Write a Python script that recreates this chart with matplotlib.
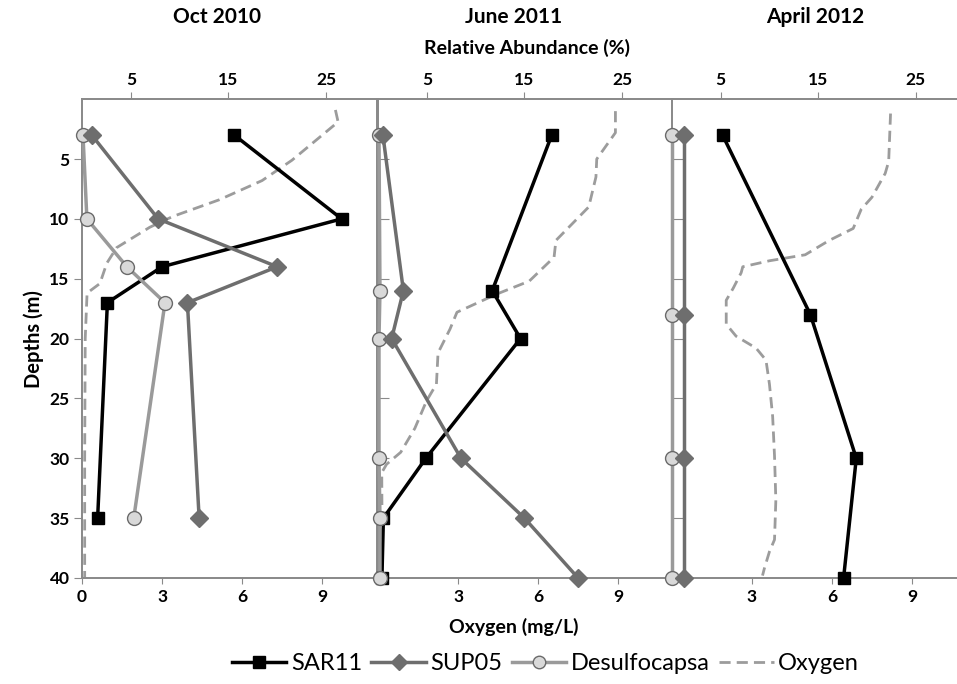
import matplotlib.pyplot as plt
from matplotlib.lines import Line2D

plt.rcParams['font.family'] = ['Lato', 'DejaVu Sans']

titles = ['Oct 2010', 'June 2011', 'April 2012']

# Oct 2010
oct_depth = [3, 10, 14, 17, 35]
oct_sar11 = [15.6, 26.6, 8.2, 2.6, 1.6]
oct_sup05 = [1.0, 7.8, 20.0, 10.8, 12.0]
oct_desulfo = [0.1, 0.5, 4.6, 8.5, 5.3]
oct_o2_depth = [0.9, 1.9, 5.1, 6.8, 8.4, 9.8, 10.7, 12.4, 13.7, 15.4, 16.2, 20, 30, 40]
oct_o2 = [9.5, 9.6, 7.87, 6.75, 5.15, 3.4, 2.54, 1.3, 0.93, 0.67, 0.19, 0.12, 0.1, 0.1]

# June 2011
jun_depth = [3, 16, 20, 30, 35, 40]
jun_sar11 = [17.8, 11.7, 14.6, 4.9, 0.55, 0.4]
jun_sup05 = [0.5, 2.6, 1.4, 8.5, 15.0, 20.5]
jun_desulfo = [0.1, 0.2, 0.1, 0.1, 0.2, 0.2]
jun_o2_depth = [1.0, 2.8, 5.0, 6.5, 9.0, 11.8, 13.2, 15.2, 16.3, 17.8, 19.2, 21.2,
                23.8, 25.2, 27.5, 29.5, 30.5, 31.2, 35, 40]
jun_o2 = [8.9, 8.9, 8.2, 8.17, 7.9, 6.67, 6.6, 5.67, 4.43, 2.96, 2.7, 2.25,
          2.19, 1.82, 1.38, 0.85, 0.32, 0.14, 0.15, 0.15]

# April 2012
apr_depth = [3, 18, 30, 40]
apr_sar11 = [5.2, 14.2, 18.9, 17.6]
apr_sup05 = [1.2, 1.2, 1.2, 1.2]
apr_desulfo = [0.05, 0.05, 0.05, 0.05]
apr_o2_depth = [1.2, 5.2, 6.2, 8.2, 9.2, 10.8, 11.8, 13.0, 13.5, 14.0, 14.5, 15.8, 16.8,
                18.8, 19.8, 20.8, 21.8, 23.8, 26.5, 29.8, 33.5, 36.8, 37.8, 39.2, 39.8]
apr_o2 = [8.2, 8.13, 8.0, 7.5, 7.1, 6.8, 5.9, 5.0, 3.66, 2.66, 2.6, 2.3, 2.04,
          2.04, 2.41, 3.16, 3.53, 3.66, 3.78, 3.85, 3.9, 3.85, 3.66, 3.47, 3.4]

panels = [
    (oct_depth, oct_sar11, oct_sup05, oct_desulfo, oct_o2_depth, oct_o2),
    (jun_depth, jun_sar11, jun_sup05, jun_desulfo, jun_o2_depth, jun_o2),
    (apr_depth, apr_sar11, apr_sup05, apr_desulfo, apr_o2_depth, apr_o2),
]

depth_ticks = [5, 10, 15, 20, 25, 30, 35, 40]
abund_ticks = [5, 15, 25]

c_sar = 'black'
c_sup = '#6e6e6e'
c_des = '#9a9a9a'
c_des_face = '#d9d9d9'
c_o2 = '#9c9c9c'
c_spine = '#8a8a8a'

fig = plt.figure(figsize=(9.57, 6.84), dpi=100)

lefts = [0.0857, 0.395, 0.702]
width = 0.308
bottom, height = 0.155, 0.700
title_x = [0.2267, 0.537, 0.8516]

for i, (dep, sar, sup, des, o2d, o2) in enumerate(panels):
    ax = fig.add_axes([lefts[i], bottom, width, height])
    ax.plot(o2, o2d, color=c_o2, lw=2, ls=(0, (4, 2.2)))
    ax.set_xlim(0, 11.05)
    ax.set_ylim(40, 0)

    axt = ax.twiny()
    axt.set_xlim(0, 30.2)
    axt.plot(sar, dep, color=c_sar, lw=2.5, marker='s', ms=9, zorder=3, clip_on=False)
    axt.plot(des, dep, color=c_des, lw=2.5, marker='o', ms=10,
             mfc=c_des_face, mec='#6a6a6a', mew=1, zorder=4, clip_on=False)
    axt.plot(sup, dep, color=c_sup, lw=2.5, marker='D', ms=9, zorder=5, clip_on=False)

    for a in (ax, axt):
        for s in a.spines.values():
            s.set_color(c_spine)
            s.set_linewidth(1.3)

    axt.set_xticks(abund_ticks)
    axt.tick_params(axis='x', direction='out', length=5, color=c_spine,
                    labelsize=12.5, pad=3)
    for lab in axt.get_xticklabels():
        lab.set_fontweight('bold')

    if i == 0:
        ax.set_xticks([0, 3, 6, 9])
    else:
        ax.set_xticks([3, 6, 9])
    ax.tick_params(axis='x', direction='out', length=4, color=c_spine,
                   labelsize=12.5, pad=4)
    ax.set_yticks(depth_ticks)
    if i == 0:
        ax.tick_params(axis='y', direction='out', length=6, color=c_spine,
                       labelsize=12.5, pad=3)
        ax.set_ylabel('Depths (m)', fontsize=14.5, fontweight='bold', labelpad=4)
    else:
        ax.tick_params(axis='y', direction='in', length=8, color=c_spine,
                       labelleft=False)
    for lab in ax.get_xticklabels() + ax.get_yticklabels():
        lab.set_fontweight('bold')

    fig.text(title_x[i], 0.975, titles[i], ha='center', va='center',
             fontsize=15, fontweight='bold')

fig.text(0.551, 0.93, 'Relative Abundance (%)', ha='center', va='center',
         fontsize=14, fontweight='bold')
fig.text(0.537, 0.083, 'Oxygen (mg/L)', ha='center', va='center',
         fontsize=14, fontweight='bold')

handles = [
    Line2D([], [], color=c_sar, lw=2.5, marker='s', ms=8),
    Line2D([], [], color=c_sup, lw=2.5, marker='D', ms=8),
    Line2D([], [], color=c_des, lw=2.5, marker='o', ms=9, mfc=c_des_face, mec='#6a6a6a'),
    Line2D([], [], color=c_o2, lw=2, ls=(0, (4, 2.2))),
]
fig.legend(handles, ['SAR11', 'SUP05', 'Desulfocapsa', 'Oxygen'], loc='center',
           bbox_to_anchor=(0.57, 0.03), ncol=4, frameon=False, fontsize=17,
           handlelength=2.3, handletextpad=0.2, columnspacing=0.4)

fig.savefig('out.png', dpi=100)
